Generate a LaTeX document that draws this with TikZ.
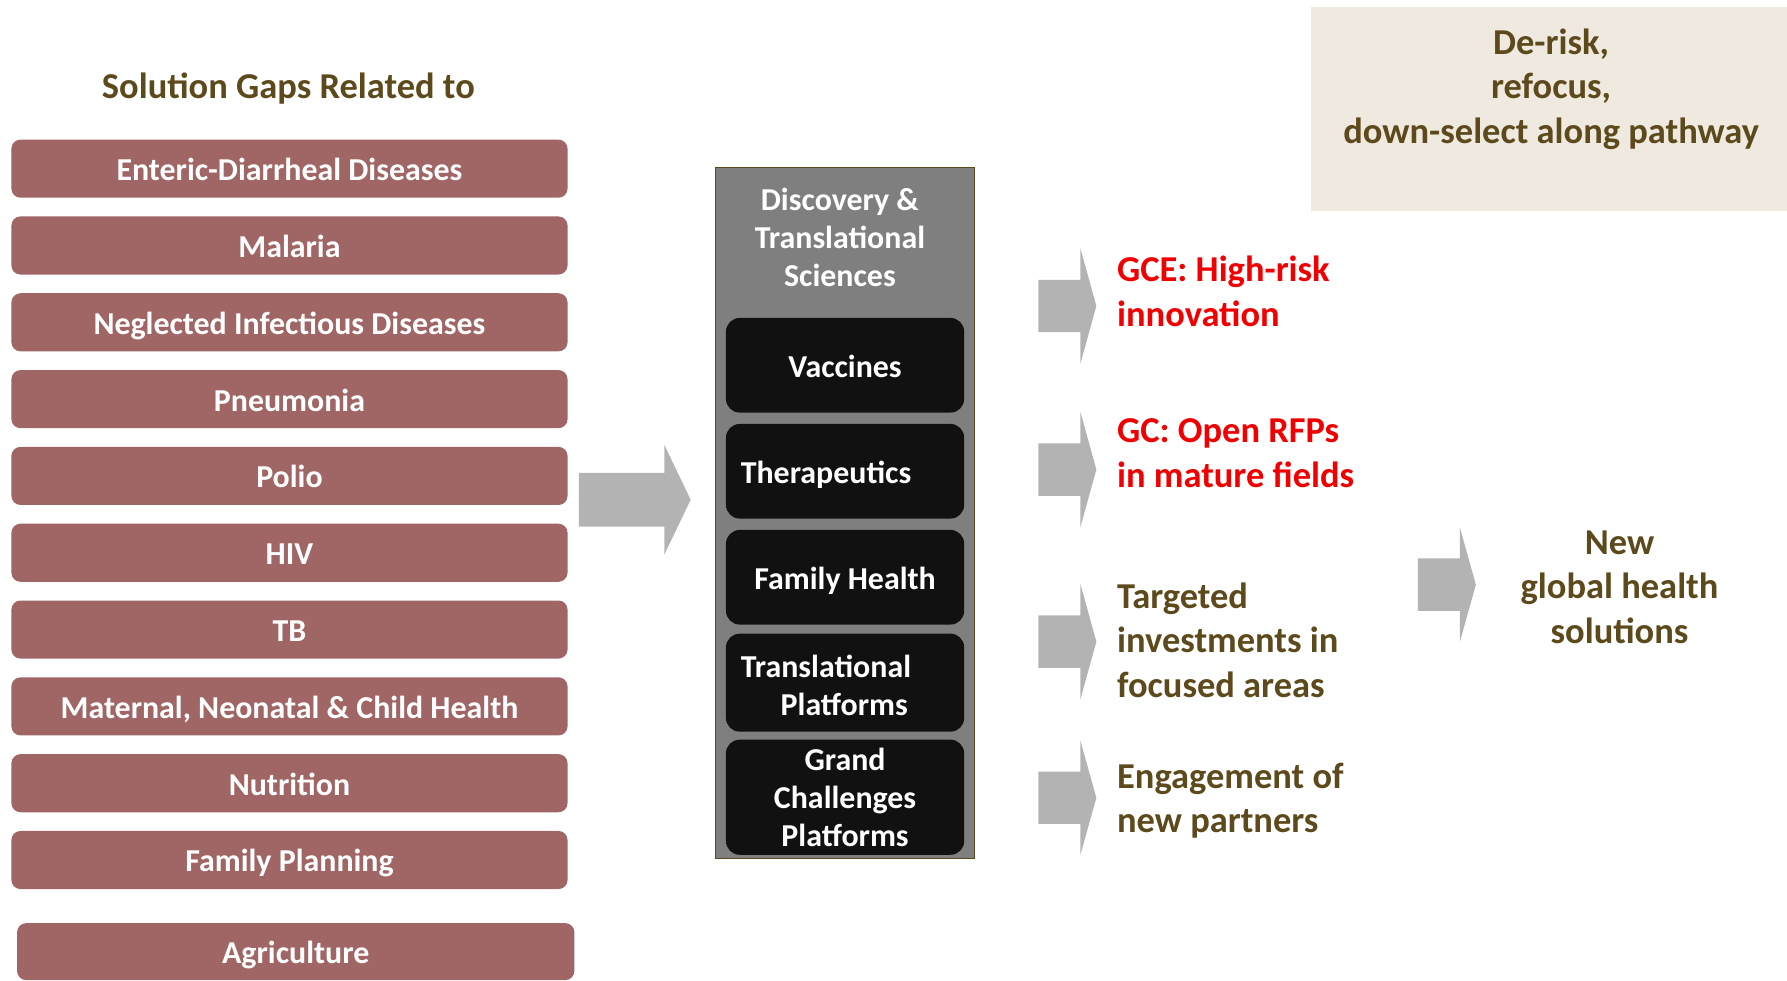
\documentclass[tikz,border=0pt]{standalone}
\usepackage{fontspec}
\setmainfont{Carlito}
\definecolor{gapred}{RGB}{160,102,102}
\definecolor{txtbrown}{RGB}{92,74,28}
\definecolor{arrgray}{RGB}{179,179,179}
\definecolor{panelgray}{RGB}{127,127,127}
\definecolor{beige}{RGB}{239,233,223}
\definecolor{boxblack}{RGB}{17,17,17}
\definecolor{hired}{RGB}{240,0,0}
% block arrow: x0, xh, xt, cy, shaft half, head half
\newcommand\blockarr[6]{%
  \fill[arrgray] (#1,#4-#5) -- (#2,#4-#5) -- (#2,#4-#6) -- (#3,#4) -- (#2,#4+#6) -- (#2,#4+#5) -- (#1,#4+#5) -- cycle;}
\begin{document}
\begin{tikzpicture}[x=1pt,y=-1pt,
  gap/.style={fill=gapred, rounded corners=8pt, minimum width=488pt, minimum height=51pt, inner sep=0pt, text=white, text height=21pt, text depth=0pt, font=\bfseries\fontsize{28}{33}\selectfont},
  blk/.style={fill=boxblack, rounded corners=12pt, minimum width=209pt, inner sep=0pt, text=white, font=\bfseries\fontsize{28}{33.5}\selectfont, align=center},
  oneline/.style={text height=22pt, text depth=0pt},
  rtxt/.style={anchor=west, align=left, inner sep=0pt, font=\bfseries\fontsize{32}{39}\selectfont},
  ctxt/.style={align=center, inner sep=0pt, font=\bfseries\fontsize{32}{39}\selectfont, text=txtbrown}]
\useasboundingbox (0,0) rectangle (1568,860);

% title
\node[ctxt] (title) at (253,78) {Solution Gaps Related to};

% gap boxes
\foreach \i/\t in {1/Enteric-Diarrheal Diseases, 2/Malaria, 3/Neglected Infectious Diseases, 4/Pneumonia, 5/Polio, 6/HIV, 7/TB, 8/{Maternal, Neonatal \& Child Health}, 9/Nutrition, 10/Family Planning}
  \node[gap] (g\i) at (254,{148+67.4*(\i-1)}) {\t};
\node[gap, minimum width=489pt, minimum height=50pt] (g11) at (259.5,835) {Agriculture};

% big arrow
\blockarr{508}{583}{606}{438.5}{23.5}{48}

% panel
\node[fill=panelgray, draw=txtbrown, line width=1.2pt, minimum width=227pt, minimum height=606pt, inner sep=0pt] (panel) at (741.5,450) {};
\node[text=white, align=center, inner sep=0pt, font=\bfseries\fontsize{28}{33.5}\selectfont] (ptitle) at (737,208.5) {Discovery \&\\Translational\\Sciences};
\node[blk, oneline, minimum height=83pt] (vac) at (741.5,320.5) {Vaccines};
\node[blk, oneline, minimum height=83pt, text width=183pt, align=left] (ther) at (741.5,413.5) {Therapeutics};
\node[blk, oneline, minimum height=83pt] (fam) at (741.5,506.5) {Family Health};
\node[blk, minimum height=86pt, text width=183pt, align=left, text height=25pt] (trans) at (741.5,599) {Translational\\\hspace*{35pt}Platforms};
\node[blk, minimum height=101pt] (grand) at (741.5,699.5) {Grand\\Challenges\\Platforms};

% right arrows
\blockarr{911}{948}{962}{268.5}{23}{50.5}
\blockarr{911}{948}{962}{412}{23}{50.5}
\blockarr{911}{948}{962}{563}{23}{50.5}
\blockarr{911}{948}{962}{700}{23}{50}
\blockarr{1244}{1281}{1295}{513}{23}{50}

% right texts
\node[rtxt, text=hired] (gce) at (980,255.5) {GCE: High-risk\\innovation};
\node[rtxt, text=hired] (gc) at (980,397.5) {GC: Open RFPs\\in mature fields};
\node[rtxt, text=txtbrown] (targ) at (980,561.5) {Targeted\\investments in\\focused areas};
\node[rtxt, text=txtbrown] (eng) at (980,702.5) {Engagement of\\new partners};
\node[ctxt] (new) at (1421,515) {New\\global health\\solutions};

% beige box
\node[fill=beige, minimum width=418pt, minimum height=179pt, inner sep=0pt] (beigebox) at (1359,95.5) {};
\node[ctxt] (derisk) at (1361,78) {De-risk,\\refocus,\\down-select along pathway};
\end{tikzpicture}
\end{document}
